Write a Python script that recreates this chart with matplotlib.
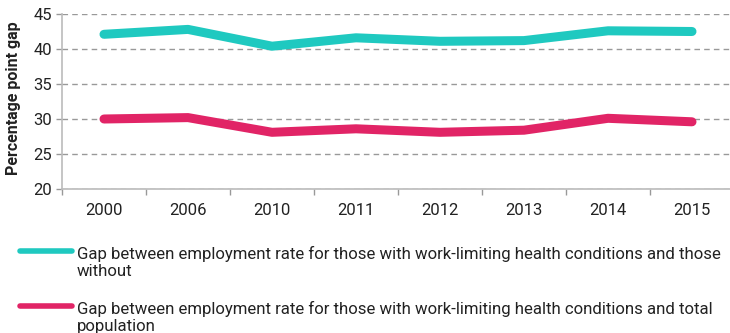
import matplotlib
matplotlib.use("Agg")
import matplotlib.pyplot as plt
from matplotlib.lines import Line2D

years = ["2000", "2006", "2010", "2011", "2012", "2013", "2014", "2015"]
gap_without = [42.1, 42.8, 40.4, 41.6, 41.1, 41.2, 42.6, 42.5]
gap_total = [30.0, 30.2, 28.1, 28.6, 28.1, 28.4, 30.1, 29.6]
labels = [
    "Gap between employment rate for those with work-limiting health conditions and those\nwithout",
    "Gap between employment rate for those with work-limiting health conditions and total\npopulation",
]
colors = ["#1FC9C0", "#E12466"]

plt.rcParams['font.family'] = ['Roboto', 'DejaVu Sans']

W, H = 730, 333
fig = plt.figure(figsize=(W / 100, H / 100), dpi=100)
ax = fig.add_axes([62 / W, 1 - 189 / H, (734 - 62) / W, (189 - 14) / H])

x = list(range(len(years)))
ax.plot(x, gap_without, color=colors[0], lw=6.5, solid_capstyle='round', solid_joinstyle='round', zorder=3)
ax.plot(x, gap_total, color=colors[1], lw=6.5, solid_capstyle='round', solid_joinstyle='round', zorder=3)

ax.set_xlim(-0.5, len(years) - 0.5)
ax.set_ylim(20, 45)
ax.set_yticks(range(20, 46, 5))
ax.set_xticks(x)
ax.set_xticklabels(years)
ax.set_xticks([i - 0.5 for i in range(len(years) + 1)], minor=True)
ax.tick_params(axis='x', which='major', length=0, pad=10, labelsize=12, colors='#222222')
ax.tick_params(axis='x', which='minor', length=4, color='#999999', width=1)
ax.tick_params(axis='y', length=4, color='#999999', width=1, labelsize=12, pad=3, colors='#222222')
ax.yaxis.grid(True, linestyle=(0, (4, 3)), color='#999999', lw=1)
ax.set_axisbelow(True)
for s in ['top', 'right']:
    ax.spines[s].set_visible(False)
for s in ['left', 'bottom']:
    ax.spines[s].set_color('#bbbbbb')
    ax.spines[s].set_linewidth(1.2)
ax.set_ylabel("Percentage point gap", fontsize=11.5, fontweight='bold', color='#222222',
              va='center', ha='center')
ax.yaxis.set_label_coords(-48 / (734 - 62), 0.52)

# legend
for i, (lab, col) in enumerate(zip(labels, colors)):
    yl = 251 + i * 55
    fig.add_artist(Line2D([20 / W, 72 / W], [1 - yl / H, 1 - yl / H], color=col, lw=4,
                          solid_capstyle='round', transform=fig.transFigure))
    fig.text(77 / W, 1 - (yl - 5) / H, lab, fontsize=12.1, va='top', ha='left',
             color='#222222', linespacing=1.15)

fig.savefig("out.png", dpi=100)
